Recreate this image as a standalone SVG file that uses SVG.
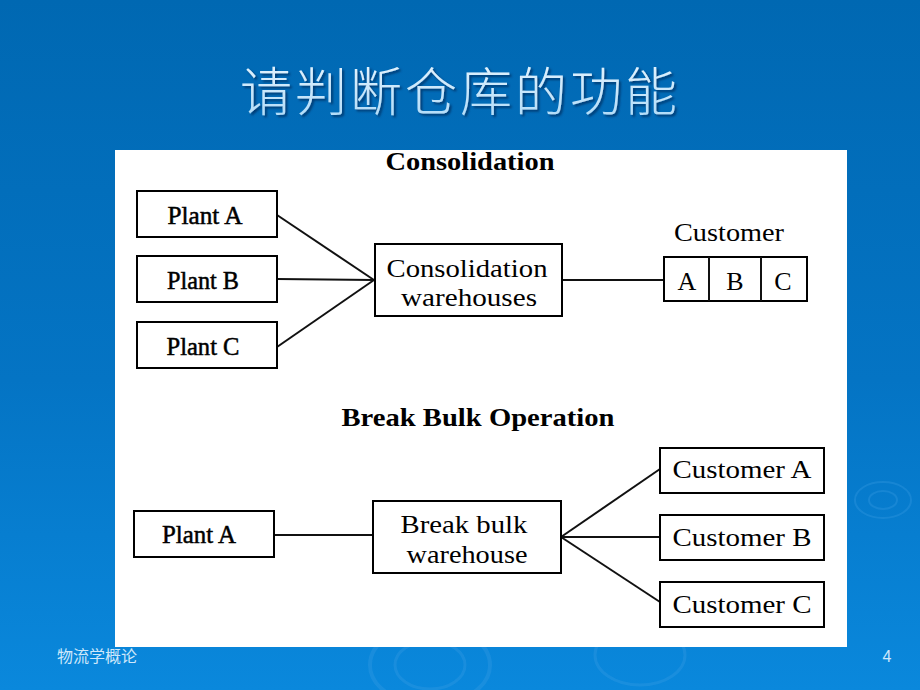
<svg xmlns="http://www.w3.org/2000/svg" width="920" height="690" viewBox="0 0 920 690">
<defs>
<linearGradient id="bg" x1="0" y1="0" x2="0" y2="1">
<stop offset="0" stop-color="#0068B2"/>
<stop offset="0.55" stop-color="#0474C4"/>
<stop offset="1" stop-color="#0A88DC"/>
</linearGradient>
<linearGradient id="tg" x1="0" y1="0" x2="0" y2="1">
<stop offset="0" stop-color="#eef8ff"/>
<stop offset="1" stop-color="#a8d8f8"/>
</linearGradient>
<filter id="sh" x="-10%" y="-30%" width="120%" height="160%">
<feDropShadow dx="2" dy="2" stdDeviation="0.8" flood-color="#00356b" flood-opacity="0.9"/>
</filter>
<style>
.box{fill:#fff;stroke:#000;stroke-width:2}
.ln{stroke:#111;stroke-width:2;fill:none}
.t{font-family:"Liberation Serif","Times New Roman",serif;fill:#000;text-anchor:middle}
.p{stroke:#000;stroke-width:0.5}
.h{font-family:"Liberation Serif","Times New Roman",serif;font-weight:bold;fill:#000;text-anchor:middle;font-size:25px}
.ring{fill:none;stroke:#3fa0e6;stroke-opacity:0.3}
</style>
</defs>
<rect width="920" height="690" fill="url(#bg)"/>
<g id="ripples">
<ellipse class="ring" cx="883" cy="500" rx="28" ry="18" stroke-width="2"/>
<ellipse class="ring" cx="883" cy="500" rx="14" ry="9" stroke-width="2"/>
<ellipse class="ring" cx="430" cy="665" rx="60" ry="40" stroke-width="4"/>
<ellipse class="ring" cx="430" cy="665" rx="35" ry="24" stroke-width="3"/>
<ellipse class="ring" cx="640" cy="655" rx="45" ry="30" stroke-width="3"/>
</g>
<g id="title">
<text x="460" y="111" font-family="Noto Sans CJK SC, sans-serif" font-size="52" font-weight="300" text-anchor="middle" fill="url(#tg)" letter-spacing="3" filter="url(#sh)">请判断仓库的功能</text>
</g>
<rect id="panel" x="115" y="150" width="732" height="497" fill="#fff"/>
<text class="h" x="470" y="170" textLength="169" lengthAdjust="spacingAndGlyphs">Consolidation</text>
<text class="h" x="478" y="426" textLength="273" lengthAdjust="spacingAndGlyphs">Break Bulk Operation</text>
<g id="connectors">
<line class="ln" x1="277" y1="215" x2="374" y2="280"/>
<line class="ln" x1="277" y1="279" x2="374" y2="280"/>
<line class="ln" x1="277" y1="347" x2="374" y2="280"/>
<line class="ln" x1="562" y1="280" x2="664" y2="280"/>
<line class="ln" x1="274" y1="535" x2="372" y2="535"/>
<line class="ln" x1="561" y1="537" x2="660" y2="469"/>
<line class="ln" x1="561" y1="537" x2="660" y2="537"/>
<line class="ln" x1="561" y1="537" x2="660" y2="602"/>
</g>
<g id="plantA">
<rect class="box" x="137" y="191" width="140" height="46"/>
<text class="t p" x="205" y="224" font-size="25" textLength="75" lengthAdjust="spacingAndGlyphs">Plant A</text>
</g>
<g id="plantB">
<rect class="box" x="137" y="256" width="140" height="46"/>
<text class="t p" x="203" y="289" font-size="25" textLength="72" lengthAdjust="spacingAndGlyphs">Plant B</text>
</g>
<g id="plantC">
<rect class="box" x="137" y="322" width="140" height="46"/>
<text class="t p" x="203" y="355" font-size="25" textLength="73" lengthAdjust="spacingAndGlyphs">Plant C</text>
</g>
<g id="consolidationWarehouses">
<rect class="box" x="375" y="244" width="187" height="72"/>
<text class="t" x="467" y="277" font-size="26" textLength="161" lengthAdjust="spacingAndGlyphs">Consolidation</text>
<text class="t" x="469" y="306" font-size="26" textLength="136" lengthAdjust="spacingAndGlyphs">warehouses</text>
</g>
<g id="customerABC">
<text class="t" x="729" y="241" font-size="25" textLength="110" lengthAdjust="spacingAndGlyphs">Customer</text>
<rect class="box" x="664" y="257" width="143" height="44"/>
<line class="ln" x1="709" y1="257" x2="709" y2="301"/>
<line class="ln" x1="761" y1="257" x2="761" y2="301"/>
<text class="t" x="687" y="290" font-size="26">A</text>
<text class="t" x="735" y="290" font-size="26">B</text>
<text class="t" x="783" y="290" font-size="26">C</text>
</g>
<g id="plantA2">
<rect class="box" x="134" y="511" width="140" height="46"/>
<text class="t p" x="199" y="543" font-size="25" textLength="74" lengthAdjust="spacingAndGlyphs">Plant A</text>
</g>
<g id="breakBulkWarehouse">
<rect class="box" x="373" y="501" width="188" height="72"/>
<text class="t" x="464" y="533" font-size="26" textLength="127" lengthAdjust="spacingAndGlyphs">Break bulk</text>
<text class="t" x="467" y="563" font-size="26" textLength="121" lengthAdjust="spacingAndGlyphs">warehouse</text>
</g>
<g id="customerA">
<rect class="box" x="660" y="448" width="164" height="45"/>
<text class="t" x="742" y="478" font-size="25" textLength="139" lengthAdjust="spacingAndGlyphs">Customer A</text>
</g>
<g id="customerB">
<rect class="box" x="660" y="515" width="164" height="45"/>
<text class="t" x="742" y="546" font-size="25" textLength="139" lengthAdjust="spacingAndGlyphs">Customer B</text>
</g>
<g id="customerC">
<rect class="box" x="660" y="582" width="164" height="45"/>
<text class="t" x="742" y="613" font-size="25" textLength="139" lengthAdjust="spacingAndGlyphs">Customer C</text>
</g>
<g id="footer">
<text x="57" y="662" font-family="Noto Sans CJK SC, sans-serif" font-size="16" fill="#cfe8fb">物流学概论</text>
<text x="887" y="662" font-family="Liberation Sans, sans-serif" font-size="16" fill="#cfe8fb" text-anchor="middle">4</text>
</g>
</svg>
